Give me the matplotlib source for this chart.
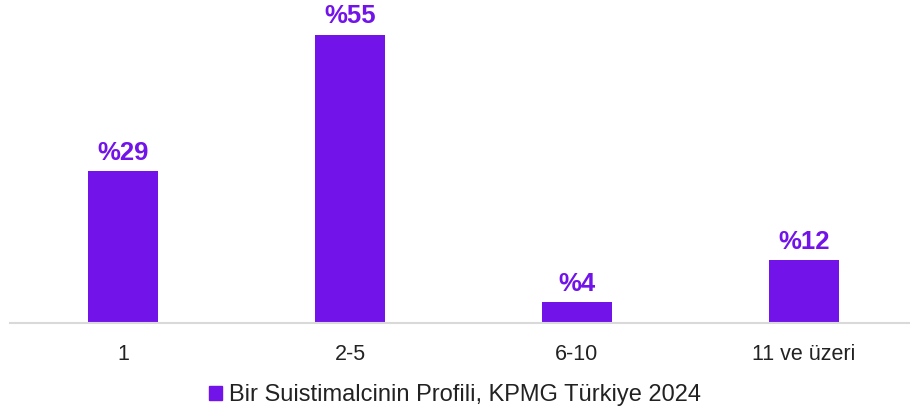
import matplotlib
matplotlib.use("Agg")
import matplotlib.pyplot as plt
from matplotlib.patches import Patch

# ----------------------
# DATA
# ----------------------

categories = ["1", "2-5", "6-10", "11 ve üzeri"]
values = [29, 55, 4, 12]
value_labels = ["%29", "%55", "%4", "%12"]
series_name = "Bir Suistimalcinin Profili, KPMG Türkiye 2024"

PURPLE = "#7213EA"

plt.rcParams["font.family"] = ["Liberation Sans", "DejaVu Sans"]

fig = plt.figure(figsize=(9.10, 4.11), dpi=100)
ax = fig.add_axes([9.5 / 910, 88 / 411, 908 / 910, 323 / 411])

x = range(len(categories))
ax.bar(x, values, width=70 / 227, color=PURPLE, zorder=2)

for xi, v, lab in zip(x, values, value_labels):
    ax.annotate(lab, (xi, v), xytext=(0, 4.5), textcoords="offset points",
                ha="center", va="bottom", color=PURPLE,
                fontsize=18.5, fontweight="bold")

ax.set_xlim(-0.5, 3.5)
ax.set_ylim(0, 61.6)
ax.set_xticks(list(x))
ax.set_xticklabels(categories, fontsize=15.5, color="#222222")
ax.tick_params(axis="x", length=0, pad=15)
ax.set_yticks([])

for side in ["top", "right", "left"]:
    ax.spines[side].set_visible(False)
ax.spines["bottom"].set_color("#D9D9D9")
ax.spines["bottom"].set_linewidth(1.5)

handle = Patch(color=PURPLE)
fig.legend([handle], [series_name], loc="center", bbox_to_anchor=(0.5, 16 / 411),
           frameon=False, fontsize=17, handlelength=0.55, handleheight=0.55,
           handletextpad=0.3, labelcolor="#222222")

fig.savefig("out.png", dpi=100)
